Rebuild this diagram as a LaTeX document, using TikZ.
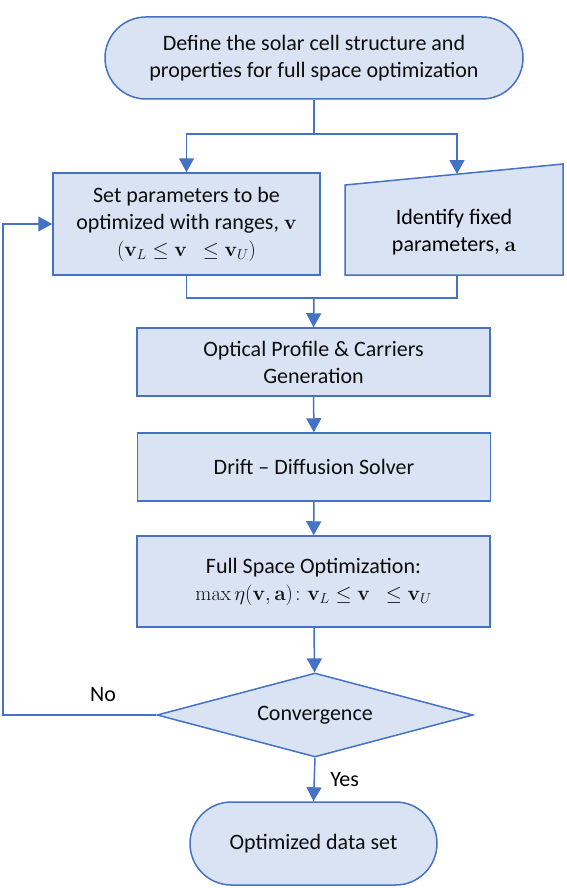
\documentclass[tikz,border=0pt]{standalone}
\usepackage{amsmath}
\usepackage[no-math]{fontspec}
\setmainfont{Carlito}
\usetikzlibrary{arrows.meta,shapes.geometric,shapes.misc}
\definecolor{flowfill}{HTML}{DAE3F3}
\definecolor{flowline}{HTML}{4472C4}
\def \bv {\mathbf{v}}

\begin{document}
\begin{tikzpicture}[x=1pt,y=-1pt,
    font=\fontsize{22}{27}\selectfont,
    box/.style={draw=flowline,fill=flowfill,line width=1.5pt,
      align=center,inner sep=0pt,text=black!95},
    process/.style={box,rectangle},
    terminal/.style={box,rounded rectangle,rounded rectangle arc length=180},
    decision/.style={box,diamond,aspect=3.76,minimum width=316pt,minimum height=84pt},
    flow/.style={draw=flowline,line width=1.5pt},
    arrow/.style={flow,-{Triangle[length=14pt,width=15pt]}}]

    \useasboundingbox (0,0) rectangle (566,888);

    \node[terminal,minimum width=418pt,minimum height=82pt] (define) at (314,58)
      {Define the solar cell structure and\\properties for full space optimization};
    \node[process,minimum width=267pt,minimum height=102pt] (setpar) at (186.5,224)
      {Set parameters to be\\optimized with ranges, $\bv$\\$(\bv_L \leq \bv\ \ \leq \bv_U)$};
    % manual input shape for the fixed parameters
    \draw[box] (345,185) -- (563,164) -- (563,275) -- (345,275) -- cycle;
    \node[align=center] (fixed) at (454,232) {Identify fixed\\parameters, $\mathbf{a}$};
    \coordinate (fixtop) at (457,174);
    \coordinate (fixbot) at (457,275);
    \node[process,minimum width=353pt,minimum height=68pt] (optic) at (313.5,362)
      {Optical Profile \& Carriers\\Generation};
    \node[process,minimum width=353pt,minimum height=68pt] (drift) at (314,467)
      {Drift -- Diffusion Solver};
    \node[process,minimum width=353pt,minimum height=91pt] (fullopt) at (313.5,581.5)
      {Full Space Optimization:\\$\max\eta(\bv,\mathbf{a})\colon \bv_L \leq \bv\ \ \leq \bv_U$};
    \node[decision] (conv) at (315,715) {Convergence};
    \node[terminal,minimum width=247pt,minimum height=83pt] (dataset) at (313.5,843.5)
      {Optimized data set};

    \coordinate (split) at (314,134);
    \coordinate (merge) at (314,298);
    \coordinate (back) at (3,715);

    \draw[arrow] (define.south) -- (split) -| (setpar.north);
    \draw[arrow] (split) -| (fixtop);
    \draw[flow] (setpar.south) |- (merge);
    \draw[flow] (fixbot) |- (merge);
    \draw[arrow] (merge) -- (optic.north);
    \draw[arrow] (optic) -- (drift);
    \draw[arrow] (drift) -- (fullopt);
    \draw[arrow] (fullopt) -- (conv);
    \draw[arrow] (conv.west) -- (back) |- (setpar.west);
    \draw[arrow] (conv.south) -- node[right=12pt] {Yes} (dataset.north);
    \node (no) at (103,695) {No};
\end{tikzpicture}
\end{document}
